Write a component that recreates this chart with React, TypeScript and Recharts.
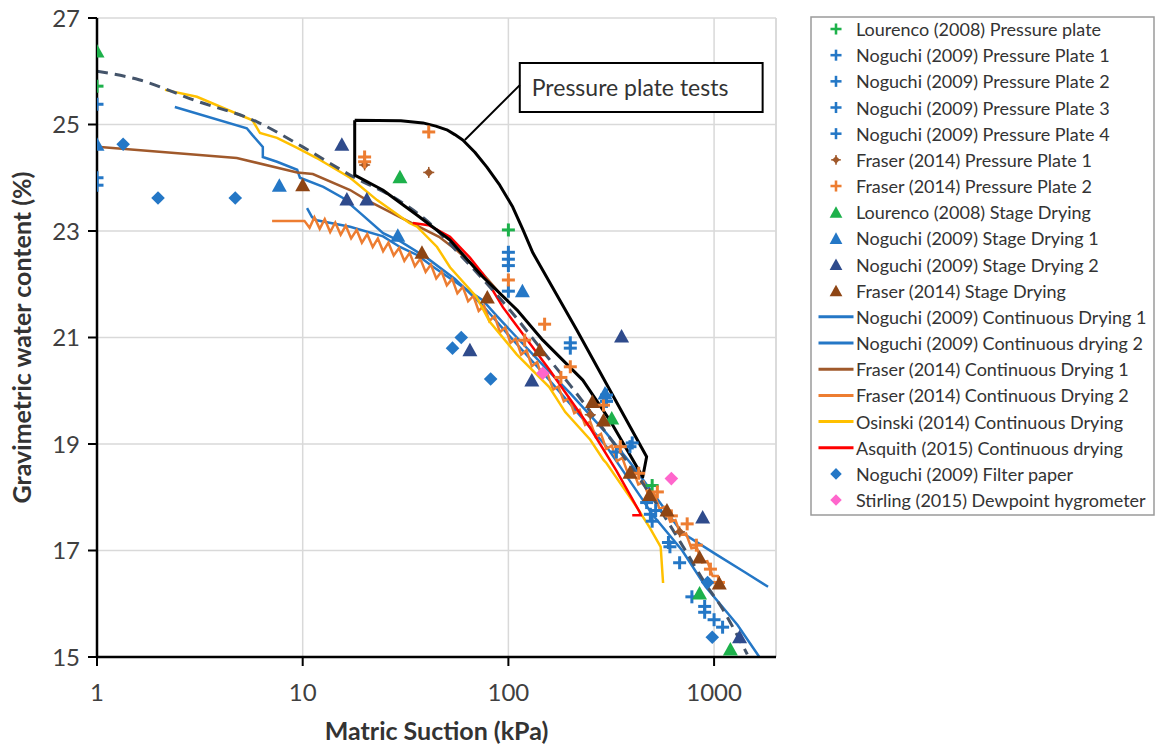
import React from 'react';
import {
  ComposedChart,
  Line,
  Scatter,
  XAxis,
  YAxis,
  CartesianGrid,
  ReferenceArea,
  ReferenceLine,
} from 'recharts';

// values: [suction kPa, water content %]
const lourencoPP = [[1, 25.72], [100, 23.02], [500, 18.22]];
const noguchiPP1 = [[1, 25.38], [100, 22.6], [200, 20.9], [400, 19.02], [600, 17.15], [900, 15.95]];
const noguchiPP2 = [[1, 24.0], [100, 22.47], [200, 20.8], [300, 19.92], [470, 17.9], [780, 16.13], [1000, 15.7]];
const noguchiPP3 = [[1, 23.86], [100, 22.35], [300, 19.8], [335, 18.85], [500, 17.55], [680, 16.77], [900, 15.84], [1100, 15.56]];
const noguchiPP4 = [[100, 21.87], [390, 18.95], [490, 17.68], [610, 17.07], [520, 17.75]];
const fraserPP1 = [[20, 24.24], [41, 24.1], [250, 19.55], [680, 17.35]];
const fraserPP2 = [[20, 24.39], [20, 24.3], [41, 24.86], [100, 22.08], [150, 21.25], [200, 20.45], [290, 19.73], [530, 18.1], [740, 17.5], [120, 20.95], [180, 20.25], [350, 18.95], [430, 18.45], [620, 17.65], [820, 17.1], [960, 16.65], [1050, 16.4]];
const lourencoSD = [[1, 26.38], [29.7, 24.02], [318, 19.49], [850, 16.2], [1200, 15.15]];
const noguchiSD1 = [[1, 24.63], [7.7, 23.86], [29, 22.92], [117, 21.88], [295, 19.96]];
const noguchiSD2 = [[15.5, 24.63], [16.4, 23.6], [20.5, 23.6], [65, 20.77], [130, 20.2], [355, 21.03], [880, 17.63], [1330, 15.38]];
const fraserSD = [[10, 23.87], [38, 22.6], [79, 21.76], [142, 20.77], [256, 19.8], [290, 19.45], [390, 18.47], [485, 18.05], [590, 17.76], [850, 16.88], [1060, 16.39]];
const noguchiCD1 = [[2.39, 25.33], [5.35, 24.93], [5.7, 24.8], [6.4, 24.58], [6.4, 24.39], [7.5, 24.3], [9.4, 24.15], [9.7, 24.0], [12.6, 23.83], [15.7, 23.62], [19, 23.34], [24.6, 22.96], [30, 22.8], [40, 22.5], [55, 22.1], [75, 21.6], [100, 21.05], [150, 20.3], [200, 19.75], [300, 18.95], [450, 17.95], [500, 17.68], [700, 17.0], [910, 16.32], [1300, 15.6], [1660, 15.0]];
const noguchiCD2 = [[10.5, 23.43], [11.1, 23.26], [11.7, 23.2], [17, 23.08], [24.6, 22.9], [29.7, 22.7], [36, 22.55], [43, 22.33], [60, 21.95], [75, 21.7], [88, 21.4], [110, 21.0], [150, 20.45], [200, 19.95], [300, 19.2], [400, 18.6], [500, 18.1], [700, 17.33], [1000, 16.95], [1400, 16.6], [1830, 16.32]];
const fraserCD1 = [[1, 24.58], [4.78, 24.37], [9.4, 24.1], [11.2, 24.07], [17, 23.77], [20.5, 23.58], [29.7, 23.26], [46, 22.89], [56, 22.64], [75, 22.2], [90, 21.85]];
const fraserCD2 = [[7.1, 23.19], [10.2, 23.19], [10.8, 23.06], [11.4, 23.26], [12.1, 23.04], [12.8, 23.22], [13.6, 22.98], [14.4, 23.16], [15.3, 22.93], [16.2, 23.1], [17.2, 22.86], [18.3, 23.02], [19.4, 22.78], [20.6, 22.94], [21.9, 22.7], [23.2, 22.86], [24.6, 22.62], [26.1, 22.78], [27.7, 22.54], [29.4, 22.68], [31.2, 22.44], [33.1, 22.59], [35.1, 22.34], [37.3, 22.48], [39.6, 22.23], [42, 22.37], [44.6, 22.11], [47.3, 22.24], [50.2, 21.98], [53.3, 22.1], [56.5, 21.83], [60, 21.95], [63.7, 21.68], [67.6, 21.78], [71.7, 21.5], [76.1, 21.6], [80.8, 21.31], [85.7, 21.4], [91, 21.1], [96.5, 21.19], [102.4, 20.9], [108.7, 20.98], [115.4, 20.68], [122.5, 20.76], [130, 20.46], [138, 20.54], [146, 20.24], [155, 20.32], [165, 20.02], [175, 20.08], [186, 19.8], [197, 19.86], [209, 19.58], [222, 19.64], [236, 19.36], [250, 19.42], [266, 19.13], [282, 19.19], [299, 18.91], [318, 18.97], [337, 18.68], [358, 18.74], [380, 18.46], [403, 18.52], [428, 18.24], [454, 18.29], [482, 18.01], [512, 18.06], [543, 17.78], [576, 17.82], [612, 17.54], [649, 17.57], [689, 17.29], [731, 17.32], [776, 17.04], [823, 17.06], [874, 16.78], [927, 16.8], [984, 16.52], [1044, 16.52], [1100, 16.3]];
const osinskiCD = [[2.14, 25.65], [3.06, 25.52], [5.7, 25.08], [6.2, 24.84], [7.5, 24.75], [9.4, 24.56], [11.7, 24.37], [17, 24.0], [23, 23.58], [33, 23.15], [36, 23.08], [45, 22.7], [52, 22.32], [70, 21.76], [81, 21.3], [110, 20.68], [158, 20.07], [189, 19.6], [250, 19.08], [290, 18.7], [300, 18.64], [420, 17.82], [485, 17.44], [550, 17.07], [565, 16.39]];
const asquithCD = [[34.3, 23.15], [41, 23.11], [52, 22.89], [65, 22.5], [75, 22.2], [94, 21.57], [131, 20.82], [158, 20.4], [250, 19.3], [335, 18.5], [435, 17.72], [440, 17.66], [400, 17.66]];
const noguchiFP = [[1.34, 24.63], [1.98, 23.62], [4.7, 23.62], [59, 21.0], [53.5, 20.8], [82, 20.22], [930, 16.4], [980, 15.37]];
const stirlingDP = [[147, 20.33], [620, 18.35]];

// fitted curve (dashed) and the "pressure plate tests" envelope
const fitCurve = [[1, 26.0], [1.6, 25.84], [3, 25.45], [6, 25.05], [10, 24.58], [17, 24.05], [30, 23.55], [40, 23.2], [60, 22.5], [75, 22.1], [100, 21.55], [150, 20.7], [200, 20.1], [300, 19.2], [500, 18.0], [700, 17.1], [900, 16.4], [1100, 15.9], [1300, 15.4], [1450, 15.05]];
const envelope = [[17.9, 25.08], [30, 25.07], [38.4, 25.03], [44.4, 24.97], [50.2, 24.9], [54.9, 24.81], [60, 24.71], [68.7, 24.48], [78.6, 24.2], [90.8, 23.86], [105, 23.45], [117.5, 23.03], [131.5, 22.59], [215, 21.14], [470, 18.76], [450, 18.38], [311, 19.45], [230, 20.2], [147, 20.95], [110, 21.52], [75, 22.14], [52, 22.83], [35.9, 23.3], [24.5, 23.77], [17.9, 24.05], [17.9, 25.08]];

const xTicks = [1, 10, 100, 1000];
const yTicks = [15, 17, 19, 21, 23, 25, 27];

type Kind = 'plus' | 'dot' | 'tri' | 'dia' | 'line';
const pts = (a: number[][]) => a.map(([x, y]) => ({ x, y }));

const series: { name: string; kind: Kind; color: string; data: number[][] }[] = [
  { name: 'Lourenco (2008) Pressure plate', kind: 'plus', color: '#1DB14B', data: lourencoPP },
  { name: 'Noguchi (2009) Pressure Plate 1', kind: 'plus', color: '#2477C6', data: noguchiPP1 },
  { name: 'Noguchi (2009) Pressure Plate 2', kind: 'plus', color: '#2477C6', data: noguchiPP2 },
  { name: 'Noguchi (2009) Pressure Plate 3', kind: 'plus', color: '#2477C6', data: noguchiPP3 },
  { name: 'Noguchi (2009) Pressure Plate 4', kind: 'plus', color: '#2477C6', data: noguchiPP4 },
  { name: 'Fraser (2014) Pressure Plate 1', kind: 'dot', color: '#A0592B', data: fraserPP1 },
  { name: 'Fraser (2014) Pressure Plate 2', kind: 'plus', color: '#ED7D31', data: fraserPP2 },
  { name: 'Lourenco (2008) Stage Drying', kind: 'tri', color: '#1DB14B', data: lourencoSD },
  { name: 'Noguchi (2009) Stage Drying 1', kind: 'tri', color: '#2477C6', data: noguchiSD1 },
  { name: 'Noguchi (2009) Stage Drying 2', kind: 'tri', color: '#2F4B8C', data: noguchiSD2 },
  { name: 'Fraser (2014) Stage Drying', kind: 'tri', color: '#8E4514', data: fraserSD },
  { name: 'Noguchi (2009) Continuous Drying 1', kind: 'line', color: '#2477C6', data: noguchiCD1 },
  { name: 'Noguchi (2009) Continuous drying 2', kind: 'line', color: '#2477C6', data: noguchiCD2 },
  { name: 'Fraser (2014) Continuous Drying 1', kind: 'line', color: '#A0592B', data: fraserCD1 },
  { name: 'Fraser (2014) Continuous Drying 2', kind: 'line', color: '#ED7D31', data: fraserCD2 },
  { name: 'Osinski (2014) Continuous Drying', kind: 'line', color: '#FFC000', data: osinskiCD },
  { name: 'Asquith (2015) Continuous drying', kind: 'line', color: '#FF0000', data: asquithCD },
  { name: 'Noguchi (2009) Filter paper', kind: 'dia', color: '#2477C6', data: noguchiFP },
  { name: 'Stirling (2015) Dewpoint hygrometer', kind: 'dia', color: '#FF66CC', data: stirlingDP },
];

const FONT = 'Lato, "Open Sans", sans-serif';

function Marker({ kind, color, cx, cy, legend }: { kind: Kind; color: string; cx: number; cy: number; legend?: boolean }) {
  const k = legend ? 0.85 : 1;
  if (kind === 'plus') {
    const r = 6.5 * k;
    return (
      <g>
        <line x1={cx - r} y1={cy} x2={cx + r} y2={cy} stroke={color} strokeWidth={3 * k} />
        <line x1={cx} y1={cy - r} x2={cx} y2={cy + r} stroke={color} strokeWidth={3 * k} />
      </g>
    );
  }
  if (kind === 'dot') {
    const r = 4.5 * k;
    return (
      <g>
        <polygon points={`${cx},${cy - r} ${cx + r},${cy} ${cx},${cy + r} ${cx - r},${cy}`} fill={color} />
        <line x1={cx - r - 1} y1={cy} x2={cx + r + 1} y2={cy} stroke={color} strokeWidth={1.5} />
        <line x1={cx} y1={cy - r - 1} x2={cx} y2={cy + r + 1} stroke={color} strokeWidth={1.5} />
      </g>
    );
  }
  if (kind === 'tri') {
    const w = 7.5 * k;
    const h = 6.5 * k;
    return <polygon points={`${cx},${cy - h - 0.5} ${cx + w},${cy + h} ${cx - w},${cy + h}`} fill={color} />;
  }
  if (kind === 'dia') {
    const r = 6.8 * k;
    return <polygon points={`${cx},${cy - r} ${cx + r},${cy} ${cx},${cy + r} ${cx - r},${cy}`} fill={color} />;
  }
  return <line x1={cx - 17.5} y1={cy} x2={cx + 17.5} y2={cy} stroke={color} strokeWidth={3} />;
}

function ChartLegend() {
  const rowH = 26.17;
  return (
    <svg width={346} height={500} style={{ position: 'absolute', left: 810, top: 16 }}>
      <rect x={1} y={1} width={343} height={498} fill="#fff" stroke="#9a9a9a" strokeWidth={1.5} />
      {series.map((s, i) => {
        const cy = 13 + i * rowH;
        return (
          <g key={s.name}>
            <Marker kind={s.kind} color={s.color} cx={26} cy={cy} legend />
            <text x={46} y={cy} dominantBaseline="central" fontSize={18} fontFamily={FONT} fill="#333">
              {s.name}
            </text>
          </g>
        );
      })}
    </svg>
  );
}

export default function App() {
  return (
    <div style={{ position: 'absolute', left: 0, top: 0, width: 1157, height: 749, background: '#fff' }}>
      <ComposedChart width={1157} height={749} margin={{ top: 18, right: 381, bottom: 0, left: 0 }}>
        <CartesianGrid stroke="#D9D9D9" strokeWidth={1.5} />
        <ReferenceLine x={2000} stroke="#D9D9D9" strokeWidth={1.5} />
        <XAxis
          type="number"
          dataKey="x"
          scale="log"
          domain={[1, 2000]}
          ticks={xTicks}
          interval={0}
          allowDataOverflow
          height={92}
          tickSize={9}
          tickMargin={18}
          tick={{ fill: '#404040', fontSize: 24, fontFamily: FONT }}
          axisLine={{ stroke: '#000', strokeWidth: 2.5 }}
          tickLine={{ stroke: '#000', strokeWidth: 2 }}
          label={{
            value: 'Matric Suction (kPa)',
            position: 'insideBottom',
            offset: 9,
            fill: '#333',
            fontSize: 25,
            fontWeight: 'bold',
            fontFamily: FONT,
          }}
        />
        <YAxis
          type="number"
          dataKey="y"
          domain={[15, 27]}
          ticks={yTicks}
          interval={0}
          allowDataOverflow
          width={97}
          tickSize={9}
          tickMargin={8}
          tick={{ fill: '#404040', fontSize: 24, fontFamily: FONT }}
          axisLine={{ stroke: '#000', strokeWidth: 2.5 }}
          tickLine={{ stroke: '#000', strokeWidth: 2 }}
          label={{
            value: 'Gravimetric water content (%)',
            angle: -90,
            position: 'insideLeft',
            offset: 22,
            fill: '#333',
            fontSize: 25,
            fontWeight: 'bold',
            fontFamily: FONT,
            style: { textAnchor: 'middle' },
          }}
        />
        {series
          .filter((s) => s.kind !== 'line')
          .map((s) => (
            <Scatter
              key={s.name}
              name={s.name}
              data={pts(s.data)}
              isAnimationActive={false}
              shape={(p: any) => <Marker kind={s.kind} color={s.color} cx={p.cx} cy={p.cy} />}
            />
          ))}
        {series
          .filter((s) => s.kind === 'line')
          .map((s) => (
            <Line
              key={s.name}
              name={s.name}
              data={pts(s.data)}
              dataKey="y"
              type="linear"
              stroke={s.color}
              strokeWidth={2.5}
              dot={false}
              activeDot={false}
              isAnimationActive={false}
            />
          ))}
        <Line
          data={pts(fitCurve)}
          dataKey="y"
          type="monotone"
          stroke="#44546A"
          strokeWidth={3}
          strokeDasharray="11 7"
          dot={false}
          activeDot={false}
          isAnimationActive={false}
        />
        <Line
          data={pts(envelope)}
          dataKey="y"
          type="linear"
          stroke="#000"
          strokeWidth={3}
          strokeLinejoin="round"
          dot={false}
          activeDot={false}
          isAnimationActive={false}
        />
        <ReferenceLine
          segment={[{ x: 61.4, y: 24.71 }, { x: 113.6, y: 25.74 }]}
          stroke="#000"
          strokeWidth={2}
        />
        <ReferenceArea
          x1={113.6}
          x2={1722}
          y1={25.235}
          y2={26.155}
          fill="#fff"
          fillOpacity={1}
          stroke="#000"
          strokeWidth={2}
          label={{
            value: 'Pressure plate tests',
            position: 'insideLeft',
            offset: 12,
            fill: '#333',
            fontSize: 23,
            fontFamily: FONT,
          }}
        />
      </ComposedChart>
      <ChartLegend />
    </div>
  );
}
